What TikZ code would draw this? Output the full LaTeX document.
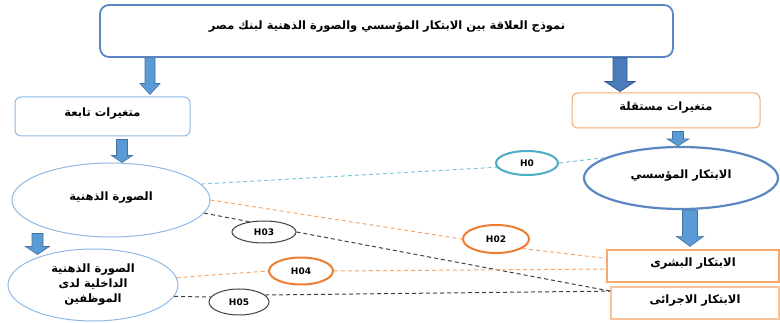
\documentclass[tikz,border=0pt]{standalone}
\usepackage{fontspec}
\newfontfamily\arabicfont[Script=Arabic]{DejaVu Sans}
\newfontfamily\hfont{DejaVu Sans}
\TeXXeTstate=1
\usetikzlibrary{calc,shapes.geometric}

\definecolor{frameblue}{HTML}{5A87C2}
\definecolor{lightblue}{HTML}{8EB9E3}
\definecolor{arrowfill}{HTML}{5B9BD5}
\definecolor{arrowline}{HTML}{41719C}
\definecolor{darkfill}{HTML}{4A7CBC}
\definecolor{darkline}{HTML}{2F5597}
\definecolor{lightorange}{HTML}{F5A76C}
\definecolor{paleorange}{HTML}{F8C29B}
\definecolor{strongorange}{HTML}{ED7D31}
\definecolor{teal}{HTML}{4BACC6}
\definecolor{darkgray}{HTML}{404040}

\newcommand\ar[1]{{\arabicfont\bfseries\beginR #1\endR}}
% block arrow: style, start, end, shaft half width, head half width, head length
\newcommand\barrow[6]{\path[#1] let \p1=(#2), \p2=(#3) in
  (\x1-#4,\y1) -- (\x1+#4,\y1) -- (\x1+#4,\y2+#6) -- (\x1+#5,\y2+#6) -- (\x1,\y2)
  -- (\x1-#5,\y2+#6) -- (\x1-#4,\y2+#6) -- cycle;}

\tikzset{
  varbox/.style={draw, line width=1pt, rounded corners=6pt, inner sep=0pt, text height=8pt, text depth=7pt, font=\fontsize{11.5}{14}\selectfont},
  dimbox/.style={draw, line width=1.2pt, inner sep=0pt, text height=8pt, text depth=7pt, font=\fontsize{11.5}{14}\selectfont},
  oval/.style={draw, ellipse, inner sep=0pt, text height=8pt, text depth=7pt, font=\fontsize{11.5}{14}\selectfont},
  hyp/.style={draw, ellipse, inner sep=0pt, font=\hfont\bfseries\fontsize{9}{10}\selectfont},
  lightarrow/.style={fill=arrowfill, draw=arrowline, line width=0.6pt},
  darkarrow/.style={fill=darkfill, draw=darkline, line width=0.8pt},
  link/.style={line width=1pt, dash pattern=on 4pt off 3pt}
}

\begin{document}
\begin{tikzpicture}[x=1pt, y=-1pt]
\useasboundingbox (0,0) rectangle (780,323);

\node (title) at (386.5,31) [draw=frameblue, line width=1.8pt, rounded corners=9pt, minimum width=573pt, minimum height=52pt]{};
\node (titletext) at (387,27) [font=\fontsize{11.5}{14}\selectfont]{\ar{نموذج العلاقة بين الابتكار المؤسسي والصورة الذهنية لبنك مصر}};

\node (dep) at (102.5,116.5) [varbox, draw=lightblue, minimum width=175pt, minimum height=39pt]{\ar{متغيرات تابعة}};
\node (indep) at (666,110.5) [varbox, draw=lightorange, minimum width=188pt, minimum height=35pt]{\ar{متغيرات مستقلة}};

\node (img) at (111,200) [oval, draw=lightblue, line width=1pt, minimum width=198pt, minimum height=74pt]{\ar{الصورة الذهنية}};
\node (inst) at (681,178) [oval, draw=frameblue, line width=2.2pt, minimum width=194pt, minimum height=62pt]{\ar{الابتكار المؤسسي}};
\node (intimg) at (93,285) [draw, ellipse, inner sep=0pt, align=center, draw=lightblue, line width=1pt, minimum width=170pt, minimum height=72pt, font=\fontsize{11.5}{15}\selectfont]{\ar{الصورة الذهنية}\\\ar{الداخلية لدى}\\\ar{الموظفين}};

\node (hum) at (693,266) [dimbox, draw=lightorange, minimum width=172pt, minimum height=32pt]{\ar{الابتكار البشرى}};
\node (proc) at (695,303) [dimbox, draw=paleorange, minimum width=168pt, minimum height=32pt]{\ar{الابتكار الاجرائى}};

\node (h0) at (527,163) [hyp, draw=teal, line width=2pt, minimum width=62pt, minimum height=24pt]{H0};
\node (h02) at (496,239) [hyp, draw=strongorange, line width=2pt, minimum width=66pt, minimum height=28pt]{H02};
\node (h03) at (264,232) [hyp, draw=darkgray, line width=1pt, minimum width=64pt, minimum height=22pt]{H03};
\node (h04) at (301,271) [hyp, draw=strongorange, line width=2pt, minimum width=64pt, minimum height=27pt]{H04};
\node (h05) at (239,302) [hyp, draw=darkgray, line width=1pt, minimum width=60pt, minimum height=26pt]{H05};

% x positions of the block arrows
\coordinate (xa) at (150,0);
\coordinate (xb) at (620,0);
\coordinate (xc) at (122,0);
\coordinate (xd) at (37.5,0);
\coordinate (xe) at (678,0);
\coordinate (xf) at (690,0);

\barrow{lightarrow}{xa |- title.south}{[yshift=2pt]xa |- dep.north}{5pt}{10pt}{11pt}
\barrow{darkarrow}{xb |- title.south}{[yshift=1pt]xb |- indep.north}{7pt}{15pt}{10pt}
\barrow{lightarrow}{[yshift=-3pt]xc |- dep.south}{xc |- img.north}{5.5pt}{10.5pt}{7pt}
\barrow{lightarrow}{[yshift=4pt]xd |- img.south}{[yshift=-6pt]xd |- intimg.north}{5.5pt}{12pt}{8pt}
\barrow{lightarrow}{[yshift=-3pt]xe |- indep.south}{xe |- inst.north}{5.5pt}{11pt}{7pt}
\barrow{lightarrow}{xf |- inst.south}{[yshift=3pt]xf |- hum.north}{7.5pt}{13.5pt}{10pt}

\draw [link, color=teal!70] (img.10) -- (h0.188);
\draw [link, color=teal!70] (h0.east) -- (inst.165);
\draw [link, color=lightorange] (img.east) -- (h02.west);
\draw [link, color=lightorange] (h02.340) -- (hum.175);
\draw [link, color=darkgray] (img.-8) -- (h03.145);
\draw [link, color=darkgray] (h03.east) -- (proc.172);
\draw [link, color=lightorange] (intimg.5) -- (h04.west);
\draw [link, color=lightorange] (h04.east) -- (hum.182);
\draw [link, color=darkgray] (intimg.-8) -- (h05.170);
\draw [link, color=darkgray] (h05.15) -- (proc.172);

\end{tikzpicture}
\end{document}
